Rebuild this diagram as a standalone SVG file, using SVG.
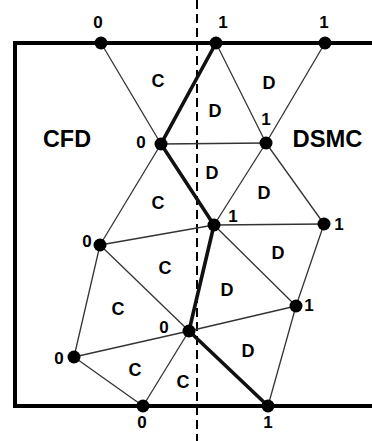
<svg xmlns="http://www.w3.org/2000/svg" width="372" height="441" viewBox="0 0 372 441">
<style>
.thin{stroke:#333;stroke-width:1.3;fill:none}
.thick{stroke:#111;stroke-width:3.6;fill:none;stroke-linecap:round}
.box{stroke:#000;stroke-width:4;fill:none}
.dash{stroke:#000;stroke-width:2;stroke-dasharray:9 5}
text{font-family:"Liberation Sans",Arial,sans-serif;font-weight:bold;fill:#000;text-anchor:middle}
.n{font-size:17px}
.r{font-size:18px}
.big{font-size:23.5px}
</style>
<defs>
<circle id="dot" r="6.5" fill="#000"/>
</defs>
<rect width="372" height="441" fill="#fff"/>
<path class="box" d="M372,43 H15 V406 H372"/>
<line class="dash" x1="197" y1="0" x2="197" y2="441"/>
<g id="connectors">
<line class="thin" x1="101" y1="43" x2="161" y2="144"/>
<line class="thin" x1="216" y1="43" x2="266" y2="143"/>
<line class="thin" x1="325" y1="43" x2="266" y2="143"/>
<line class="thin" x1="161" y1="144" x2="266" y2="143"/>
<line class="thin" x1="161" y1="144" x2="100" y2="245"/>
<line class="thin" x1="266" y1="143" x2="214" y2="225"/>
<line class="thin" x1="266" y1="143" x2="324" y2="224"/>
<line class="thin" x1="214" y1="225" x2="324" y2="224"/>
<line class="thin" x1="100" y1="245" x2="214" y2="225"/>
<line class="thin" x1="100" y1="245" x2="189" y2="331"/>
<line class="thin" x1="100" y1="245" x2="74" y2="357"/>
<line class="thin" x1="214" y1="225" x2="296" y2="306"/>
<line class="thin" x1="324" y1="224" x2="296" y2="306"/>
<line class="thin" x1="189" y1="331" x2="296" y2="306"/>
<line class="thin" x1="74" y1="357" x2="189" y2="331"/>
<line class="thin" x1="74" y1="357" x2="143" y2="406"/>
<line class="thin" x1="143" y1="406" x2="189" y2="331"/>
<line class="thin" x1="296" y1="306" x2="268" y2="406"/>
<polyline class="thick" points="216,43 161,144 214,225 189,331 268,406"/>
</g>
<g id="nA"><use href="#dot" x="101" y="43"/><text class="n" x="98" y="28">0</text></g>
<g id="nB"><use href="#dot" x="216" y="43"/><text class="n" x="223" y="28">1</text></g>
<g id="nC"><use href="#dot" x="325" y="43"/><text class="n" x="324" y="28">1</text></g>
<g id="nD"><use href="#dot" x="161" y="144"/><text class="n" x="141" y="148">0</text></g>
<g id="nE"><use href="#dot" x="266" y="143"/><text class="n" x="266" y="125">1</text></g>
<g id="nF"><use href="#dot" x="214" y="225"/><text class="n" x="233" y="222">1</text></g>
<g id="nG"><use href="#dot" x="324" y="224"/><text class="n" x="339" y="230">1</text></g>
<g id="nH"><use href="#dot" x="100" y="245"/><text class="n" x="87" y="247">0</text></g>
<g id="nI"><use href="#dot" x="296" y="306"/><text class="n" x="309" y="311">1</text></g>
<g id="nJ"><use href="#dot" x="189" y="331"/><text class="n" x="164" y="333">0</text></g>
<g id="nK"><use href="#dot" x="74" y="357"/><text class="n" x="59" y="364">0</text></g>
<g id="nL"><use href="#dot" x="143" y="406"/><text class="n" x="142" y="428">0</text></g>
<g id="nM"><use href="#dot" x="268" y="406"/><text class="n" x="268" y="428">1</text></g>
<g id="regions">
<text class="r" x="158" y="87">C</text>
<text class="r" x="215" y="117">D</text>
<text class="r" x="269" y="89">D</text>
<text class="r" x="212" y="179">D</text>
<text class="r" x="264" y="199">D</text>
<text class="r" x="278" y="259">D</text>
<text class="r" x="227" y="296">D</text>
<text class="r" x="158" y="209">C</text>
<text class="r" x="165" y="274">C</text>
<text class="r" x="118" y="315">C</text>
<text class="r" x="135" y="376">C</text>
<text class="r" x="183" y="388">C</text>
<text class="r" x="248" y="357">D</text>
</g>
<g id="labels">
<text class="big" x="67" y="147" textLength="48" lengthAdjust="spacingAndGlyphs">CFD</text>
<text class="big" x="327.5" y="147" textLength="70" lengthAdjust="spacingAndGlyphs">DSMC</text>
</g>
</svg>
